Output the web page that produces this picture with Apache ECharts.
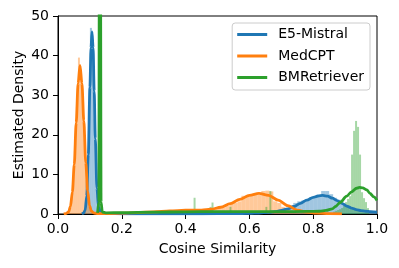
<!DOCTYPE html>
<html>
<head>
<meta charset="utf-8">
<script src="https://cdn.jsdelivr.net/npm/echarts@6/dist/echarts.min.js"></script>
<style>
html,body{margin:0;padding:0;background:#fff;}
#chart{width:399px;height:268px;}
</style>
</head>
<body>
<div id="chart"></div>
<script>
// ---------- data ----------
const seriesNames = ['E5-Mistral', 'MedCPT', 'BMRetriever'];
const xTickValues = [0, 0.2, 0.4, 0.6, 0.8, 1.0];
const xTickLabels = ['0.0', '0.2', '0.4', '0.6', '0.8', '1.0'];
const yTickValues = [0, 10, 20, 30, 40, 50];
const yTickLabels = ['0', '10', '20', '30', '40', '50'];

// KDE curves (x, density)
const e5KdeX = [0.075, 0.08, 0.085, 0.09, 0.095, 0.1, 0.1035, 0.1066, 0.11, 0.1135, 0.117, 0.122, 0.127, 0.133, 0.14, 0.15, 0.16, 0.2, 0.3, 0.4, 0.5, 0.55, 0.6, 0.63, 0.66, 0.68, 0.7, 0.72, 0.74, 0.76, 0.78, 0.8, 0.815, 0.83, 0.845, 0.86, 0.875, 0.89, 0.905, 0.92, 0.935, 0.95, 0.965, 0.98, 1.0];
const e5KdeY = [0.05, 0.2, 0.9, 4.5, 15, 32, 42, 46, 42, 31, 19, 6.5, 1.8, 0.5, 0.25, 0.15, 0.1, 0.05, 0.05, 0.05, 0.07, 0.1, 0.15, 0.25, 0.4, 0.6, 0.9, 1.3, 1.9, 2.7, 3.5, 4.2, 4.55, 4.7, 4.5, 4.0, 3.4, 2.7, 2.0, 1.5, 1.1, 0.85, 0.7, 0.6, 0.5];

const medKdeX = [0.018, 0.025, 0.033, 0.039, 0.045, 0.051, 0.057, 0.063, 0.069, 0.075, 0.081, 0.087, 0.093, 0.099, 0.105, 0.113, 0.125, 0.15, 0.2, 0.25, 0.3, 0.35, 0.4, 0.45, 0.48, 0.51, 0.54, 0.57, 0.6, 0.63, 0.66, 0.69, 0.72, 0.75, 0.78, 0.81, 0.85, 0.89];
const medKdeY = [0.02, 0.1, 0.5, 1.9, 5.5, 12.5, 23, 33, 37.5, 33, 23.5, 13, 5.8, 2.1, 0.7, 0.25, 0.12, 0.1, 0.2, 0.35, 0.55, 0.8, 0.95, 1.0, 1.2, 1.7, 2.6, 3.7, 4.7, 5.2, 4.7, 3.5, 2.1, 1.0, 0.45, 0.2, 0.08, 0.03];

const bmKdeX = [0.124, 0.128, 0.1295, 0.1307, 0.1322, 0.1334, 0.135, 0.139, 0.15, 0.2, 0.3, 0.4, 0.5, 0.6, 0.7, 0.78, 0.82, 0.84, 0.86, 0.87, 0.884, 0.905, 0.92, 0.936, 0.945, 0.955, 0.968, 0.978, 0.99, 1.0];
const bmKdeY = [0.3, 3, 60, 160, 160, 60, 3, 0.5, 0.3, 0.35, 0.45, 0.55, 0.6, 0.6, 0.6, 0.65, 0.7, 0.9, 1.3, 1.9, 2.9, 4.5, 5.6, 6.5, 6.7, 6.6, 6.1, 5.2, 4.3, 3.4];

// Histograms: bin starts, bin width, densities
const e5HistLeftStart = 0.08125;
const e5HistLeftWidth = 0.00625;
const e5HistLeft = [1.2, 5.5, 21, 47, 44, 24, 7, 1.8, 0.6, 0.3];
const e5HistRightStart = 0.675;
const e5HistRightWidth = 0.0125;
const e5HistRight = [0.4, 0.7, 1.0, 1.5, 2.2, 2.8, 3.2, 3.4, 3.8, 4.2, 4.6, 4.7, 5.8, 5.8, 5.0, 4.1, 3.6, 2.6, 1.8, 1.2, 1.0, 0.8, 0.7, 0.6, 0.5, 0.3];

const medHistLeftStart = 0.025;
const medHistLeftWidth = 0.00625;
const medHistLeft = [0.2, 0.7, 2.8, 7.5, 16, 27, 39.5, 36, 29, 18, 8.5, 3, 1, 0.4];
const medHistRightStart = 0.15;
const medHistRightWidth = 0.0125;
const medHistRight = [0.1, 0.1, 0.15, 0.2, 0.2, 0.25, 0.3, 0.3, 0.35, 0.4, 0.45, 0.5,
  0.6, 0.7, 0.7, 0.8, 0.8, 0.9, 0.9, 0.9, 1.0, 1.0, 1.0, 1.0, 1.0, 1.1, 1.2, 1.3, 1.5, 1.7, 2.0, 2.6,
  2.8, 3.2, 4.6, 4.7, 4.8, 4.8, 4.9, 5.8, 5.9, 5.7, 3.2, 2.8, 1.8, 1.3, 0.9, 0.6, 0.4, 0.3, 0.2, 0.1];

const bmHistWidth = 0.00625;
const bmHistStarts = [0.1285, 0.425, 0.475, 0.48125, 0.5375, 0.65, 0.6625, 0.8625, 0.86875, 0.875, 0.88125, 0.8875, 0.89375, 0.9, 0.90625, 0.9125, 0.91875, 0.925, 0.93125, 0.9375, 0.94375, 0.95, 0.95625, 0.9625, 0.96875];
const bmHist = [120, 4.1, 1.8, 2.9, 1.8, 1.8, 5.8, 0.6, 0.8, 1.0, 1.2, 1.5, 2.0, 3.0, 3.8, 4.5, 15, 21, 23.5, 22, 15, 5.5, 4.0, 3.0, 1.5];

// ---------- build ----------
const colors = ['#1f77b4', '#ff7f0e', '#2ca02c'];
const FONT = 'DejaVu Sans';

function regularBins(start, width, heights) {
  return heights.map((h, i) => [start + i * width, start + (i + 1) * width, h]);
}
function sparseBins(starts, width, heights) {
  return starts.map((s, i) => [s, s + width, heights[i]]);
}
function pairs(xs, ys) { return xs.map((x, i) => [x, ys[i]]); }

function histSeries(name, color, data) {
  return {
    type: 'custom',
    name: name,
    silent: true,
    renderItem: function (params, api) {
      const p0 = api.coord([api.value(0), api.value(2)]);
      const p1 = api.coord([api.value(1), 0]);
      const rect = echarts.graphic.clipRectByRect(
        { x: p0[0], y: p0[1], width: p1[0] - p0[0], height: p1[1] - p0[1] },
        { x: params.coordSys.x, y: params.coordSys.y, width: params.coordSys.width, height: params.coordSys.height }
      );
      if (!rect) return null;
      return { type: 'rect', shape: rect, style: { fill: color, opacity: 0.42 } };
    },
    encode: { x: [0, 1], y: 2 },
    data: data,
    z: 1
  };
}
function kdeSeries(name, color, data) {
  return {
    type: 'line',
    name: name,
    data: data,
    showSymbol: false,
    symbol: 'none',
    smooth: 0.3,
    smoothMonotone: 'x',
    clip: true,
    lineStyle: { color: color, width: 2.8 },
    itemStyle: { color: color },
    emphasis: { disabled: true },
    z: 2
  };
}

const option = {
  animation: false,
  backgroundColor: '#ffffff',
  grid: { left: 58, right: 22, top: 16, bottom: 54, show: true, borderColor: '#000', borderWidth: 1, backgroundColor: 'transparent' },
  xAxis: {
    type: 'value', min: 0, max: 1, interval: 0.2,
    axisLine: { show: true, lineStyle: { color: '#000', width: 1 } },
    axisTick: { show: true, length: 5, lineStyle: { color: '#000', width: 1 } },
    axisLabel: { margin: 8, fontSize: 14, fontFamily: FONT, color: '#000',
      formatter: v => { const i = xTickValues.findIndex(t => Math.abs(t - v) < 1e-9); return i >= 0 ? xTickLabels[i] : ''; } },
    splitLine: { show: false },
    name: 'Cosine Similarity', nameLocation: 'middle', nameGap: 28, nameMoveOverlap: false,
    nameTextStyle: { fontSize: 14, fontFamily: FONT, color: '#000' }
  },
  yAxis: {
    type: 'value', min: 0, max: 50, interval: 10,
    axisLine: { show: true, lineStyle: { color: '#000', width: 1 } },
    axisTick: { show: true, length: 5, lineStyle: { color: '#000', width: 1 } },
    axisLabel: { margin: 9, fontSize: 14, fontFamily: FONT, color: '#000',
      formatter: v => { const i = yTickValues.indexOf(v); return i >= 0 ? yTickLabels[i] : ''; } },
    splitLine: { show: false },
    name: 'Estimated Density', nameLocation: 'middle', nameGap: 32, nameRotate: 90, nameMoveOverlap: false,
    nameTextStyle: { fontSize: 14, fontFamily: FONT, color: '#000' }
  },
  legend: {
    data: seriesNames.map(n => ({ name: n, icon: 'rect' })),
    orient: 'vertical', right: 29, top: 23,
    padding: [4, 6, 5, 5], itemGap: 6.5,
    itemWidth: 30, itemHeight: 3,
    borderColor: '#cccccc', borderWidth: 1, borderRadius: 3,
    backgroundColor: 'rgba(255,255,255,0.8)',
    selectedMode: false,
    textStyle: { fontSize: 14, fontFamily: FONT, color: '#000', lineHeight: 15, padding: [0, 0, 0, 6] }
  },
  series: [
    histSeries('E5-Mistral hist', colors[0], regularBins(e5HistLeftStart, e5HistLeftWidth, e5HistLeft).concat(regularBins(e5HistRightStart, e5HistRightWidth, e5HistRight))),
    histSeries('MedCPT hist', colors[1], regularBins(medHistLeftStart, medHistLeftWidth, medHistLeft).concat(regularBins(medHistRightStart, medHistRightWidth, medHistRight))),
    histSeries('BMRetriever hist', colors[2], sparseBins(bmHistStarts, bmHistWidth, bmHist)),
    kdeSeries(seriesNames[0], colors[0], pairs(e5KdeX, e5KdeY)),
    kdeSeries(seriesNames[1], colors[1], pairs(medKdeX, medKdeY)),
    kdeSeries(seriesNames[2], colors[2], pairs(bmKdeX, bmKdeY))
  ]
};

const chart = echarts.init(document.getElementById('chart'), null, { renderer: 'canvas' });
chart.setOption(option);
</script>
</body>
</html>
